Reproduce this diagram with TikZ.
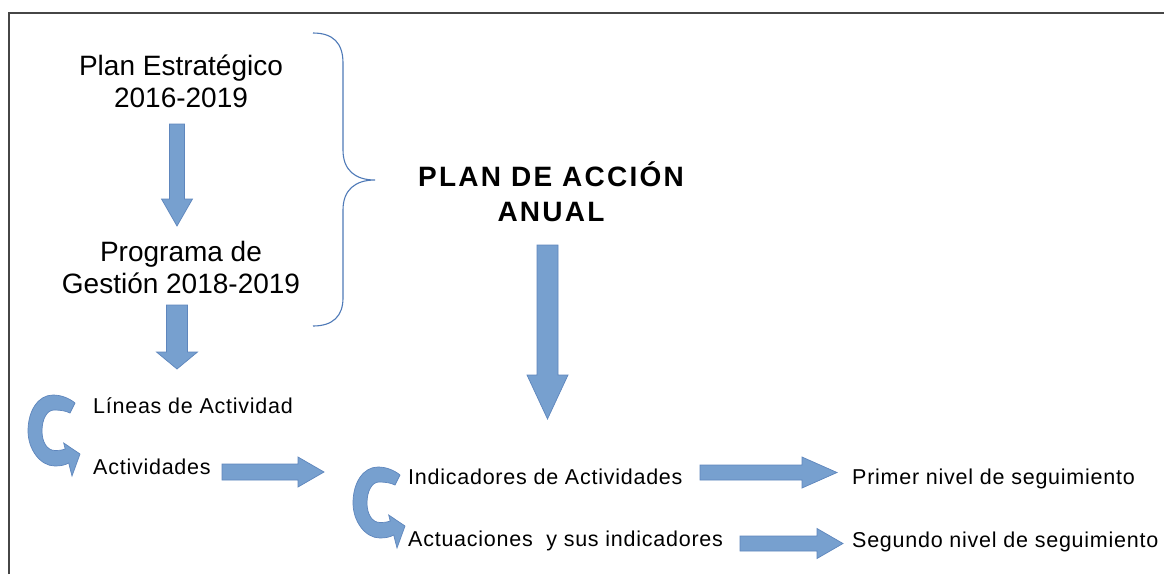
\documentclass[tikz,border=0pt]{standalone}
\usepackage{fontspec}
\setmainfont{Liberation Sans}
\usetikzlibrary{calc}
\definecolor{arrfill}{RGB}{119,160,207}
\definecolor{arrline}{RGB}{94,134,189}
\definecolor{bracecol}{RGB}{79,122,184}
\definecolor{framecol}{RGB}{70,70,70}
\tikzset{
  blockarrow/.style={fill=arrfill, draw=arrline, line width=0.7pt, line join=miter},
  bigtext/.style={font=\fontsize{28}{32}\selectfont, inner sep=0pt, align=center, anchor=north},
  titletext/.style={font=\fontsize{28}{35}\selectfont\bfseries\addfontfeature{LetterSpace=8}, inner sep=0pt, align=center, anchor=north},
  smalltext/.style={font=\fontsize{21.5}{26}\selectfont\addfontfeature{LetterSpace=3.5}, inner sep=0pt, anchor=base west},
  bracestyle/.style={draw=bracecol, line width=1.1pt},
  loopar/.pic={
    \filldraw[blockarrow] (22,-30) .. controls (16,-35) and (8,-38) .. (0,-38)
      .. controls (-15,-38) and (-25,-22) .. (-25,-2)
      .. controls (-25,16) and (-13,33) .. (2,33)
      .. controls (8,33) and (12,32) .. (15.7,30)
      -- (19,43) -- (27,21) -- (10.7,10) -- (12.2,16)
      .. controls (8,17.5) and (5,17.5) .. (2,17.5)
      .. controls (-6,17.5) and (-11,9) .. (-11,-2)
      .. controls (-11,-14) and (-6,-23) .. (1,-23)
      .. controls (8,-23) and (13,-22) .. (17,-20) -- cycle;
  }
}
% #1 start, #2 tip, #3 head length, #4 shaft half, #5 head half
\newcommand\downblock[5]{%
  \filldraw[blockarrow] let \p1=(#1), \p2=(#2) in
    ({\x1-#4pt},{\y1}) -- ({\x1+#4pt},{\y1}) -- ({\x1+#4pt},{\y2+#3pt}) -- ({\x1+#5pt},{\y2+#3pt})
    -- ({\x1},{\y2}) -- ({\x1-#5pt},{\y2+#3pt}) -- ({\x1-#4pt},{\y2+#3pt}) -- cycle;}
\newcommand\rightblock[5]{%
  \filldraw[blockarrow] let \p1=(#1), \p2=(#2) in
    ({\x1},{\y1+#4pt}) -- ({\x2-#3pt},{\y1+#4pt}) -- ({\x2-#3pt},{\y1+#5pt}) -- ({\x2},{\y1})
    -- ({\x2-#3pt},{\y1-#5pt}) -- ({\x2-#3pt},{\y1-#4pt}) -- ({\x1},{\y1-#4pt}) -- cycle;}
\begin{document}
\begin{tikzpicture}[x=1pt,y=-1pt]
\useasboundingbox (0,0) rectangle (1164,574);
\fill[white] (0,0) rectangle (1164,574);
% frame
\draw[framecol, line width=1.4pt] (9,574) -- (9,13) -- (1164,13);

% texts
\node[bigtext] (pe) at (181,54.5) {Plan Estratégico\\2016-2019};
\node[bigtext] (pg) at (181,240.6) {Programa de\\Gestión 2018-2019};
\node[titletext] (pa) at (551,161.5) {PLAN DE ACCIÓN\\ANUAL};
\node[smalltext] (li) at (93,413) {Líneas de Actividad};
\node[smalltext] (ac) at (93,474) {Actividades};
\node[smalltext] (ia) at (408,484) {Indicadores de Actividades};
\node[smalltext] (au) at (408,546) {Actuaciones~ y sus indicadores};
\node[smalltext] (p1) at (852,484) {Primer nivel de seguimiento};
\node[smalltext] (s2) at (852,547) {Segundo nivel de seguimiento};

% connector end points
\coordinate (aAs) at (177,124);   \coordinate (aAe) at (177,226);
\coordinate (aBs) at (177,305);   \coordinate (aBe) at (177,369);
\coordinate (aCs) at (547.5,245); \coordinate (aCe) at (547.5,419);
\coordinate (r1s) at (222,472);   \coordinate (r1e) at (324,472);
\coordinate (r2s) at (700,472.5); \coordinate (r2e) at (837,472.5);
\coordinate (r3s) at (740,543.5); \coordinate (r3e) at (843,543.5);

\downblock{aAs}{aAe}{27}{7.5}{15.5}
\downblock{aBs}{aBe}{17}{10.5}{20.5}
\downblock{aCs}{aCe}{44}{10.5}{20.5}
\rightblock{r1s}{r1e}{26}{8}{15}
\rightblock{r2s}{r2e}{35}{7.5}{15.5}
\rightblock{r3s}{r3e}{26}{7.5}{15}

% curved arrows
\pic (c1) at (53,433) {loopar};
\pic (c2) at (378,505) {loopar};

% brace
\coordinate (bt) at (375,180);
\draw[bracestyle] (313,33) .. controls (333,33) and (343,43) .. (343,63) -- (343,150)
  .. controls (343,170) and (355,180) .. (bt)
  .. controls (355,180) and (343,190) .. (343,210) -- (343,298)
  .. controls (343,316) and (333,326) .. (313,326);
\end{tikzpicture}
\end{document}
